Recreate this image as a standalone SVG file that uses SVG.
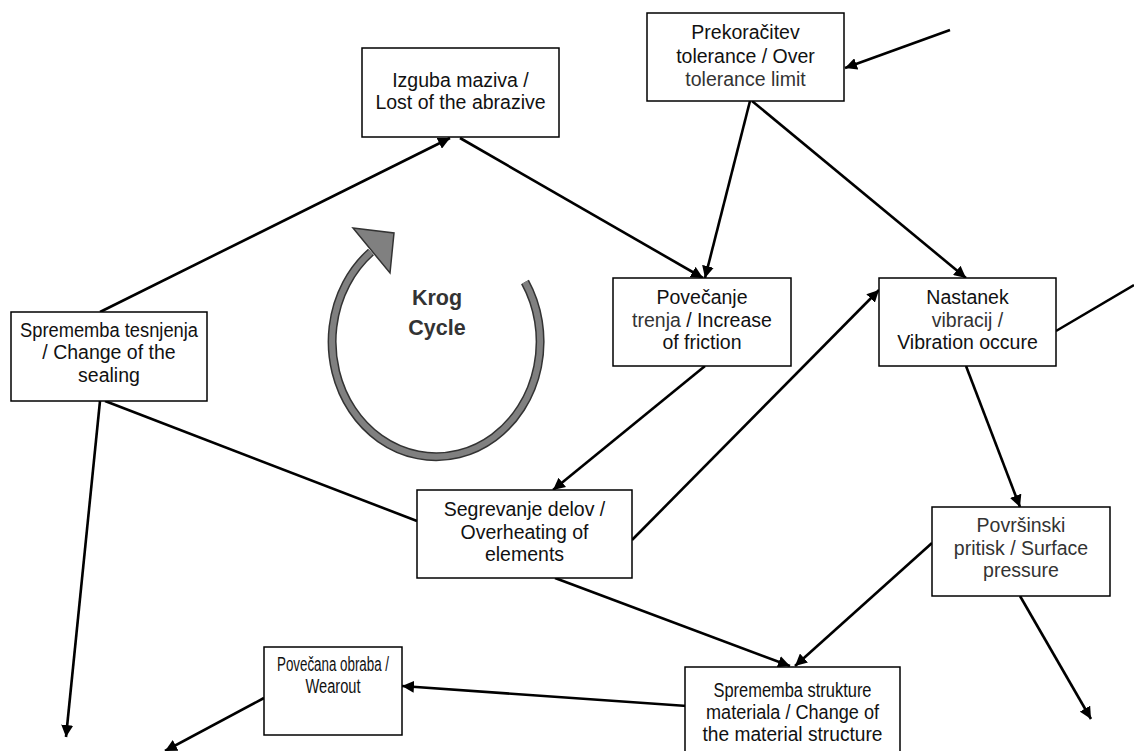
<svg xmlns="http://www.w3.org/2000/svg" width="1134" height="751" viewBox="0 0 1134 751">
<defs>
<marker id="ah" viewBox="0 0 12 12" refX="12" refY="6" markerWidth="12" markerHeight="12" markerUnits="userSpaceOnUse" orient="auto">
<path d="M0,0 L12,6 L0,12 z" fill="#000"/>
</marker>
<style>
.box{fill:#fff;stroke:#000;stroke-width:1.5}
.t{font-family:"Liberation Sans",Arial,sans-serif;font-size:19.5px;fill:#111;text-anchor:middle}
.g{fill:#333}
.c{stroke:#000;stroke-width:2.6;fill:none}
.a{marker-end:url(#ah)}
</style>
</defs>
<rect width="1134" height="751" fill="#fff"/>
<g id="connectors">
<line class="c a" x1="100" y1="312" x2="450" y2="138"/>
<line class="c a" x1="460" y1="138" x2="703" y2="278"/>
<line class="c a" x1="750" y1="101" x2="705" y2="278"/>
<line class="c a" x1="752" y1="101" x2="966" y2="278"/>
<line class="c a" x1="950" y1="30" x2="845" y2="68"/>
<line class="c" x1="1056" y1="331" x2="1134" y2="285"/>
<line class="c a" x1="705" y1="366" x2="553" y2="490"/>
<line class="c a" x1="632" y1="540" x2="879" y2="290"/>
<line class="c" x1="105" y1="401" x2="417" y2="521"/>
<line class="c a" x1="100" y1="401" x2="66" y2="737"/>
<line class="c a" x1="966" y1="366" x2="1020" y2="507"/>
<line class="c a" x1="555" y1="578" x2="790" y2="666"/>
<line class="c a" x1="932" y1="543" x2="795" y2="666"/>
<line class="c a" x1="1020" y1="596" x2="1091" y2="719"/>
<line class="c a" x1="687" y1="706" x2="402" y2="686"/>
<line class="c a" x1="264" y1="698" x2="165" y2="751"/>
</g>
<g id="cycle">
<path d="M525,282 A104,115 0 1 1 371,252" fill="none" stroke="#333" stroke-width="9"/>
<path d="M525,282 A104,115 0 1 1 371,252" fill="none" stroke="#808080" stroke-width="6"/>
<polygon points="353,228 394,233 390,273" fill="#808080" stroke="#333" stroke-width="1.5"/>
<text class="t" x="437" y="305" style="font-weight:bold;font-size:21.5px;fill:#333">Krog</text>
<text class="t" x="437" y="335" style="font-weight:bold;font-size:21.5px;fill:#333">Cycle</text>
</g>
<g id="n-prekoracitev">
<rect class="box" x="647" y="13" width="197" height="88"/>
<text class="t" x="745.5" y="39">Prekoračitev</text>
<text class="t" x="745.5" y="63">tolerance / Over</text>
<text class="t g" x="745.5" y="86">tolerance  limit</text>
</g>
<g id="n-izguba">
<rect class="box" x="362" y="48" width="197" height="89"/>
<text class="t" x="460.5" y="87">Izguba maziva /</text>
<text class="t" x="460.5" y="109">Lost of the abrazive</text>
</g>
<g id="n-tesnjenje">
<rect class="box" x="11" y="312" width="196" height="89"/>
<text class="t" x="109" y="337" textLength="178" lengthAdjust="spacingAndGlyphs">Sprememba tesnjenja</text>
<text class="t" x="109" y="359">/ Change of the</text>
<text class="t" x="109" y="382">sealing</text>
</g>
<g id="n-trenje">
<rect class="box" x="613" y="278" width="178" height="88"/>
<text class="t" x="702" y="304">Povečanje</text>
<text class="t" x="702" y="327"><tspan class="g">trenja</tspan> / Increase</text>
<text class="t" x="702" y="349">of friction</text>
</g>
<g id="n-vibracije">
<rect class="box" x="879" y="278" width="177" height="88"/>
<text class="t" x="967.5" y="304">Nastanek</text>
<text class="t g" x="967.5" y="327">vibracij /</text>
<text class="t" x="967.5" y="349">Vibration occure</text>
</g>
<g id="n-segrevanje">
<rect class="box" x="417" y="490" width="215" height="88"/>
<text class="t" x="524.5" y="516">Segrevanje delov /</text>
<text class="t" x="524.5" y="539">Overheating of</text>
<text class="t" x="524.5" y="561">elements</text>
</g>
<g id="n-pritisk">
<rect class="box" x="932" y="507" width="178" height="89"/>
<text class="t g" x="1021" y="532">Površinski</text>
<text class="t g" x="1021" y="555">pritisk  /  Surface</text>
<text class="t g" x="1021" y="577">pressure</text>
</g>
<g id="n-obraba">
<rect class="box" x="264" y="647" width="138" height="88"/>
<text class="t" x="333" y="671" textLength="112" lengthAdjust="spacingAndGlyphs">Povečana obraba /</text>
<text class="t" x="333" y="693" textLength="55" lengthAdjust="spacingAndGlyphs">Wearout</text>
</g>
<g id="n-struktura">
<rect class="box" x="685" y="667" width="215" height="90"/>
<text class="t" x="792.5" y="697" textLength="158" lengthAdjust="spacingAndGlyphs">Sprememba strukture</text>
<text class="t" x="792.5" y="719" textLength="173" lengthAdjust="spacingAndGlyphs">materiala / Change of</text>
<text class="t" x="792.5" y="741" textLength="180" lengthAdjust="spacingAndGlyphs">the  material  structure</text>
</g>
</svg>
